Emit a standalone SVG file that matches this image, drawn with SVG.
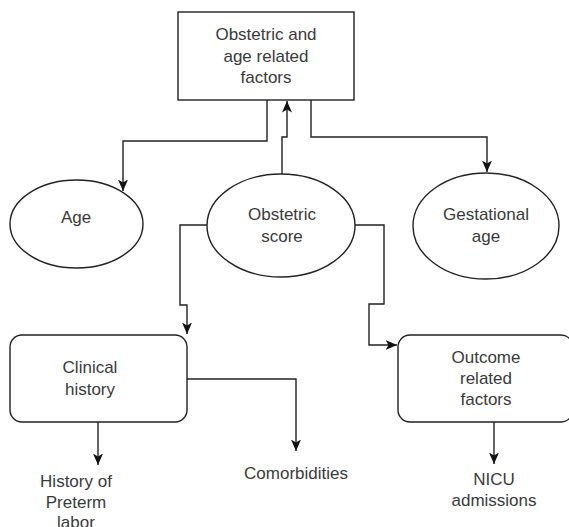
<svg xmlns="http://www.w3.org/2000/svg" width="569" height="527" viewBox="0 0 569 527">
<style>
.shape{fill:#ffffff;stroke:#222222;stroke-width:1.4}
.edge{fill:none;stroke:#222222;stroke-width:1.4;marker-end:url(#arrow)}
text{font-family:"Liberation Sans",Arial,Helvetica,sans-serif;font-size:17px;fill:#3a3a3a;text-anchor:middle}
</style>
<defs>
<marker id="arrow" markerUnits="userSpaceOnUse" markerWidth="12" markerHeight="11" viewBox="0 0 12 11" refX="11.5" refY="5.5" orient="auto">
<path d="M0,0.5 L11.5,5.5 L0,10.5 L3,5.5 z" fill="#111111"/>
</marker>
</defs>
<rect width="569" height="527" fill="#ffffff"/>
<g id="connectors">
<path class="edge" d="M267,100 V141 H123 V191"/>
<path class="edge" d="M282,174 V137 H287 V101"/>
<path class="edge" d="M311,100 V137 H487 V172"/>
<path class="edge" d="M207,225 H180 V305 H187 V334"/>
<path class="edge" d="M355,225 H384 V304 H369 V345 H397"/>
<path class="edge" d="M187,379 H296 V451"/>
<path class="edge" d="M98,422 V465"/>
<path class="edge" d="M494,422 V464"/>
</g>
<g id="obstetric-age-factors">
<rect class="shape" x="178" y="12" width="176" height="88"/>
<text x="266" y="40">Obstetric and</text>
<text x="266" y="62">age related</text>
<text x="266" y="83">factors</text>
</g>
<g id="age">
<ellipse class="shape" cx="76.5" cy="224" rx="66.5" ry="44"/>
<text x="76" y="223">Age</text>
</g>
<g id="obstetric-score">
<ellipse class="shape" cx="281" cy="225.5" rx="74" ry="51.5"/>
<text x="282" y="220">Obstetric</text>
<text x="282" y="242">score</text>
</g>
<g id="gestational-age">
<ellipse class="shape" cx="486" cy="226" rx="73" ry="53"/>
<text x="486" y="220">Gestational</text>
<text x="486" y="242">age</text>
</g>
<g id="clinical-history">
<rect class="shape" x="10" y="335" width="177" height="87" rx="12" ry="12"/>
<text x="90" y="373">Clinical</text>
<text x="90" y="395">history</text>
</g>
<g id="outcome-factors">
<rect class="shape" x="398" y="335" width="175" height="87" rx="12" ry="12"/>
<text x="486" y="363">Outcome</text>
<text x="486" y="384">related</text>
<text x="486" y="405">factors</text>
</g>
<g id="history-preterm">
<text x="76" y="487">History of</text>
<text x="76" y="508">Preterm</text>
<text x="76" y="528">labor</text>
</g>
<g id="comorbidities">
<text x="296" y="479">Comorbidities</text>
</g>
<g id="nicu">
<text x="494" y="485">NICU</text>
<text x="494" y="506">admissions</text>
</g>
</svg>
